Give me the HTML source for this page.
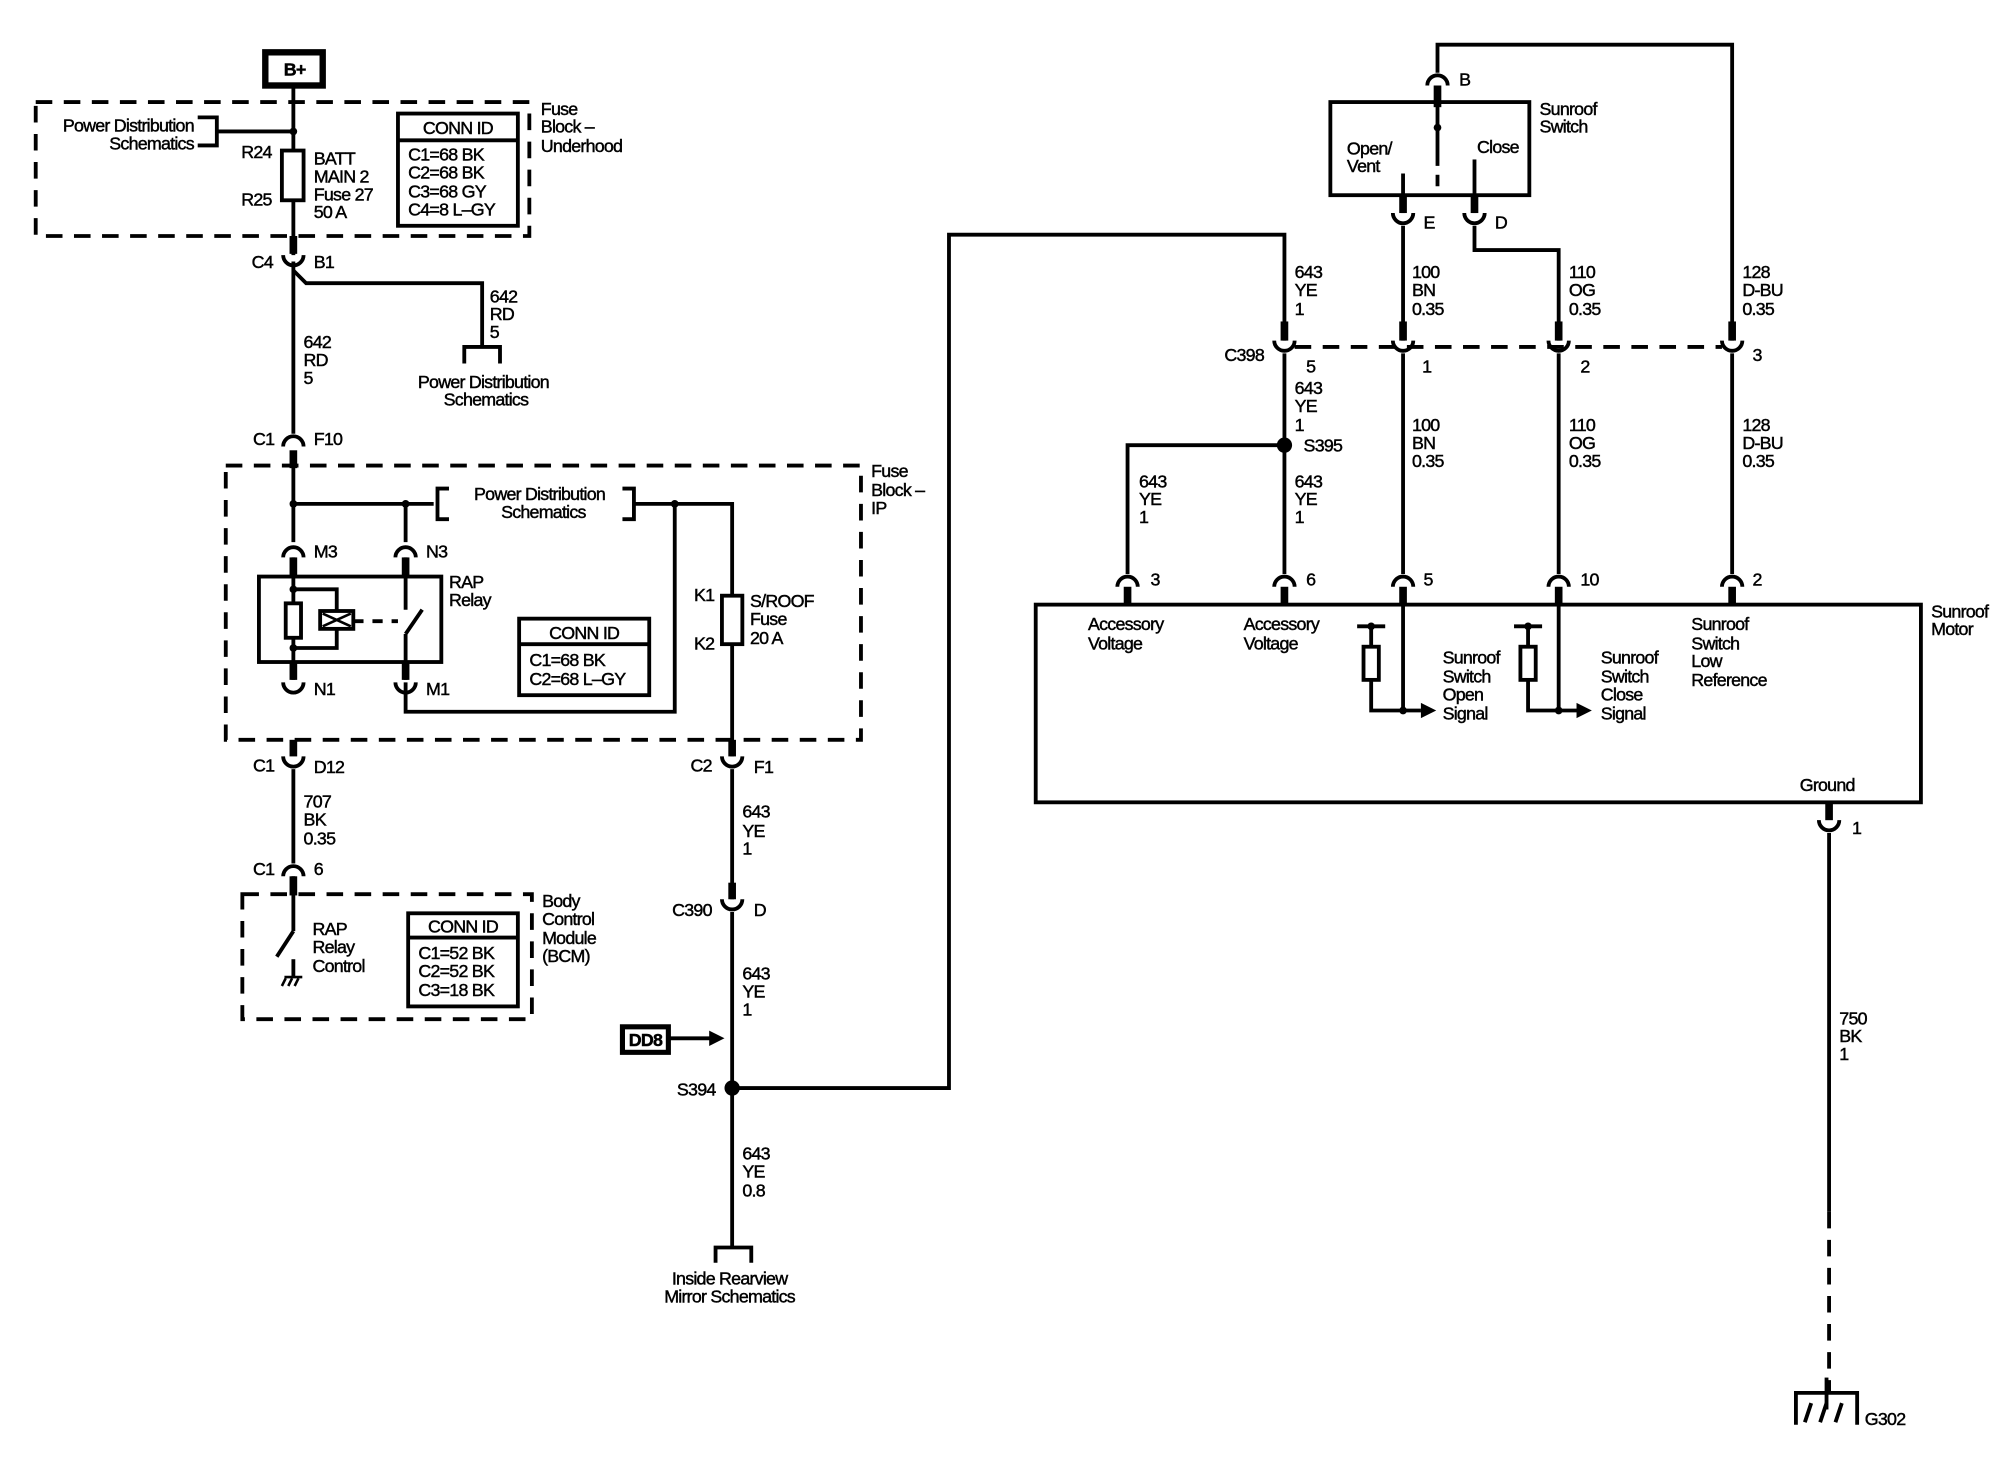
<!DOCTYPE html>
<html><head><meta charset="utf-8"><style>
html,body{margin:0;padding:0;background:#fff}
svg{display:block}
text{font-family:"Liberation Sans",sans-serif;font-size:14px;fill:#000;stroke:#000;stroke-width:0.35px;letter-spacing:-0.6px}
</style></head><body>
<svg width="2000" height="1472" viewBox="0 0 1568 1154" xmlns="http://www.w3.org/2000/svg">
<defs>
<path id="cu" d="M-8,-5 A8,8 0 0,0 8,-5" fill="none" stroke="#000" stroke-width="3"/>
<path id="cn" d="M-8,5 A8,8 0 0,1 8,5" fill="none" stroke="#000" stroke-width="3"/>
</defs>
<g fill="none" stroke="#000" stroke-width="3">
<rect x="208" y="41" width="45" height="26" stroke-width="5"/>
<g stroke-dasharray="13,9">
<rect x="28" y="80" width="387" height="105"/>
<rect x="177" y="365" width="498" height="215"/>
<rect x="190" y="701" width="227" height="98"/>
<line x1="1015" y1="272" x2="1350" y2="272"/>
<line x1="1434" y1="950" x2="1434" y2="1092"/>
</g>
<line x1="230" y1="67" x2="230" y2="118"/>
<line x1="230" y1="157" x2="230" y2="200"/>
<line x1="230" y1="185" x2="230" y2="199" stroke-width="6"/>
<polyline points="155,92 170,92 170,114 155,114"/>
<line x1="170" y1="103" x2="230" y2="103"/>
<rect x="221" y="118" width="17" height="39"/>
<rect x="312" y="89" width="94" height="88"/>
<line x1="312" y1="110" x2="406" y2="110"/>
<polyline points="230,205 230,340"/>
<polyline points="230,212 240,222 378,222 378,272"/>
<polyline points="364,285 364,272 392,272 392,285"/>
<line x1="230" y1="355" x2="230" y2="425"/>
<line x1="230" y1="353" x2="230" y2="367" stroke-width="6"/>
<polyline points="230,395 340,395"/>
<polyline points="352,383 343,383 343,407 352,407"/>
<polyline points="488,383 497,383 497,407 488,407"/>
<polyline points="497,395 574,395 574,467"/>
<line x1="318" y1="395" x2="318" y2="425"/>
<polyline points="529,395 529,558 318,558 318,535"/>
<rect x="566" y="467" width="16" height="38"/>
<line x1="574" y1="505" x2="574" y2="593"/>
<line x1="574" y1="580" x2="574" y2="593" stroke-width="6"/>
<rect x="203" y="452" width="143" height="67"/>
<line x1="230" y1="437" x2="230" y2="473"/>
<line x1="230" y1="500" x2="230" y2="533"/>
<line x1="230" y1="437" x2="230" y2="452" stroke-width="6"/>
<line x1="230" y1="519" x2="230" y2="533" stroke-width="6"/>
<rect x="224" y="473" width="12" height="27"/>
<polyline points="230,462 264,462 264,479"/>
<polyline points="230,508 264,508 264,493"/>
<rect x="251" y="479" width="26" height="14"/>
<line x1="253" y1="481" x2="275" y2="491" stroke-width="2"/>
<line x1="253" y1="491" x2="275" y2="481" stroke-width="2"/>
<line x1="277" y1="487" x2="312" y2="487" stroke-dasharray="8,7"/>
<line x1="318" y1="437" x2="318" y2="478"/>
<line x1="318" y1="437" x2="318" y2="452" stroke-width="6"/>
<line x1="318" y1="497" x2="331" y2="478"/>
<line x1="318" y1="497" x2="318" y2="533"/>
<line x1="318" y1="519" x2="318" y2="533" stroke-width="6"/>
<rect x="407" y="485" width="102" height="60"/>
<line x1="407" y1="505" x2="509" y2="505"/>
<line x1="230" y1="580" x2="230" y2="593" stroke-width="6"/>
<line x1="230" y1="603" x2="230" y2="677"/>
<line x1="230" y1="687" x2="230" y2="730"/>
<line x1="230" y1="687" x2="230" y2="702" stroke-width="6"/>
<line x1="230" y1="730" x2="217" y2="750"/>
<line x1="230" y1="752" x2="230" y2="766"/>
<line x1="223" y1="766" x2="237" y2="766" stroke-width="2"/>
<g stroke-width="2"><line x1="224" y1="767" x2="221" y2="773"/><line x1="229" y1="767" x2="226" y2="773"/><line x1="234" y1="767" x2="231" y2="773"/></g>
<rect x="320" y="716" width="86" height="73"/>
<line x1="320" y1="735" x2="406" y2="735"/>
<line x1="574" y1="603" x2="574" y2="705"/>
<line x1="574" y1="692" x2="574" y2="705" stroke-width="6"/>
<line x1="574" y1="715" x2="574" y2="978"/>
<rect x="488" y="805" width="36" height="20" stroke-width="4"/>
<line x1="524" y1="814" x2="558" y2="814"/>
<polyline points="574,853 744,853 744,184 1007,184 1007,267"/>
<line x1="1007" y1="252" x2="1007" y2="267" stroke-width="6"/>
<polyline points="561,990 561,978 589,978 589,990"/>
<rect x="1043" y="80" width="156" height="73"/>
<polyline points="1127,57 1127,35 1358,35 1358,267"/>
<line x1="1358" y1="252" x2="1358" y2="267" stroke-width="6"/>
<line x1="1127" y1="67" x2="1127" y2="130"/>
<line x1="1127" y1="67" x2="1127" y2="84" stroke-width="6"/>
<line x1="1127" y1="137" x2="1127" y2="146"/>
<line x1="1100" y1="136" x2="1100" y2="167"/>
<line x1="1100" y1="153" x2="1100" y2="167" stroke-width="6"/>
<line x1="1156" y1="125" x2="1156" y2="167"/>
<line x1="1156" y1="153" x2="1156" y2="167" stroke-width="6"/>
<line x1="1100" y1="177" x2="1100" y2="267"/>
<polyline points="1156,177 1156,196 1222,196 1222,267"/>
<line x1="1100" y1="252" x2="1100" y2="267" stroke-width="6"/>
<line x1="1222" y1="252" x2="1222" y2="267" stroke-width="6"/>
<line x1="1007" y1="277" x2="1007" y2="450"/>
<polyline points="1007,349 884,349 884,450"/>
<line x1="1100" y1="277" x2="1100" y2="450"/>
<line x1="1222" y1="277" x2="1222" y2="450"/>
<line x1="1358" y1="277" x2="1358" y2="450"/>
<rect x="812" y="474" width="694" height="155"/>
<g stroke-width="6">
<line x1="884" y1="460" x2="884" y2="474"/><line x1="1007" y1="460" x2="1007" y2="474"/>
<line x1="1100" y1="460" x2="1100" y2="474"/><line x1="1222" y1="460" x2="1222" y2="474"/>
<line x1="1358" y1="460" x2="1358" y2="474"/>
<line x1="1434" y1="629" x2="1434" y2="643"/>
</g>
<line x1="1100" y1="474" x2="1100" y2="557"/>
<line x1="1222" y1="474" x2="1222" y2="557"/>
<line x1="1064" y1="491" x2="1086" y2="491"/>
<polyline points="1075,491 1075,507"/>
<rect x="1069" y="507" width="12" height="26"/>
<polyline points="1075,533 1075,557 1114,557"/>
<line x1="1187" y1="491" x2="1209" y2="491"/>
<polyline points="1198,491 1198,507"/>
<rect x="1192" y="507" width="12" height="26"/>
<polyline points="1198,533 1198,557 1238,557"/>
<line x1="1434" y1="653" x2="1434" y2="950"/>
<polyline points="1408,1117 1408,1092 1456,1092 1456,1117"/>
<line x1="1432" y1="1080" x2="1432" y2="1105"/>
<g stroke-width="3"><line x1="1420" y1="1100" x2="1415" y2="1115"/><line x1="1432" y1="1100" x2="1427" y2="1115"/><line x1="1444" y1="1100" x2="1439" y2="1115"/></g>
</g>
<use href="#cu" x="230" y="205"/><use href="#cn" x="230" y="345"/>
<use href="#cn" x="230" y="432"/><use href="#cn" x="318" y="432"/>
<use href="#cu" x="230" y="540"/><use href="#cu" x="318" y="540"/>
<use href="#cu" x="230" y="598"/><use href="#cu" x="574" y="598"/>
<use href="#cn" x="230" y="682"/><use href="#cu" x="574" y="710"/>
<use href="#cn" x="1127" y="62"/><use href="#cu" x="1100" y="172"/><use href="#cu" x="1156" y="172"/>
<use href="#cu" x="1007" y="272"/><use href="#cu" x="1100" y="272"/><use href="#cu" x="1222" y="272"/><use href="#cu" x="1358" y="272"/>
<use href="#cn" x="884" y="455"/><use href="#cn" x="1007" y="455"/><use href="#cn" x="1100" y="455"/><use href="#cn" x="1222" y="455"/><use href="#cn" x="1358" y="455"/>
<use href="#cu" x="1434" y="648"/>
<g fill="#000">
<circle cx="230" cy="103" r="3"/><circle cx="230" cy="395" r="3"/><circle cx="318" cy="395" r="3"/><circle cx="529" cy="395" r="3"/>
<circle cx="230" cy="462" r="3"/><circle cx="230" cy="508" r="3"/>
<circle cx="574" cy="853" r="6"/><circle cx="1007" cy="349" r="6"/><circle cx="1127" cy="100" r="3"/>
<circle cx="1100" cy="557" r="3"/><circle cx="1222" cy="557" r="3"/><circle cx="1075" cy="491" r="3"/><circle cx="1198" cy="491" r="3"/>
<polygon points="556,808 568,814 556,820"/>
<polygon points="1114,551 1126,557 1114,563"/>
<polygon points="1236,551 1248,557 1236,563"/>
</g>
<text x="231" y="59" text-anchor="middle" font-weight="bold">B+</text>
<g text-anchor="end">
<text x="152" y="103">Power Distribution</text><text x="152" y="117">Schematics</text>
<text x="213" y="124">R24</text><text x="213" y="161">R25</text>
<text x="214" y="210">C4</text><text x="215" y="349">C1</text>
<text x="215" y="605">C1</text><text x="215" y="686">C1</text>
<text x="560" y="471">K1</text><text x="560" y="509">K2</text>
<text x="558" y="605">C2</text><text x="558" y="718">C390</text>
<text x="561" y="859">S394</text><text x="991" y="283">C398</text>
</g>
<text x="246" y="129">BATT</text><text x="246" y="143">MAIN 2</text><text x="246" y="157">Fuse 27</text><text x="246" y="171">50 A</text>
<text x="359" y="105" text-anchor="middle">CONN ID</text>
<text x="320" y="126">C1=68 BK</text><text x="320" y="140">C2=68 BK</text><text x="320" y="155">C3=68 GY</text><text x="320" y="169">C4=8 L–GY</text>
<text x="424" y="90">Fuse</text><text x="424" y="104">Block –</text><text x="424" y="119">Underhood</text>
<text x="246" y="210">B1</text>
<text x="384" y="237">642</text><text x="384" y="251">RD</text><text x="384" y="265">5</text>
<text x="238" y="273">642</text><text x="238" y="287">RD</text><text x="238" y="301">5</text>
<text x="379" y="304" text-anchor="middle">Power Distribution</text><text x="381" y="318" text-anchor="middle">Schematics</text>
<text x="246" y="349">F10</text>
<text x="683" y="374">Fuse</text><text x="683" y="389">Block –</text><text x="683" y="403">IP</text>
<text x="423" y="392" text-anchor="middle">Power Distribution</text><text x="426" y="406" text-anchor="middle">Schematics</text>
<text x="246" y="437">M3</text><text x="334" y="437">N3</text>
<text x="352" y="461">RAP</text><text x="352" y="475">Relay</text>
<text x="588" y="476">S/ROOF</text><text x="588" y="490">Fuse</text><text x="588" y="505">20 A</text>
<text x="458" y="501" text-anchor="middle">CONN ID</text>
<text x="415" y="522">C1=68 BK</text><text x="415" y="537">C2=68 L–GY</text>
<text x="246" y="545">N1</text><text x="334" y="545">M1</text>
<text x="246" y="606">D12</text><text x="591" y="606">F1</text>
<text x="238" y="633">707</text><text x="238" y="647">BK</text><text x="238" y="662">0.35</text>
<text x="582" y="641">643</text><text x="582" y="656">YE</text><text x="582" y="670">1</text>
<text x="246" y="686">6</text><text x="591" y="718">D</text>
<text x="425" y="711">Body</text><text x="425" y="725">Control</text><text x="425" y="740">Module</text><text x="425" y="754">(BCM)</text>
<text x="245" y="733">RAP</text><text x="245" y="747">Relay</text><text x="245" y="762">Control</text>
<text x="363" y="731" text-anchor="middle">CONN ID</text>
<text x="328" y="752">C1=52 BK</text><text x="328" y="766">C2=52 BK</text><text x="328" y="781">C3=18 BK</text>
<text x="582" y="768">643</text><text x="582" y="782">YE</text><text x="582" y="796">1</text>
<text x="506" y="820" text-anchor="middle" font-weight="bold">DD8</text>
<text x="582" y="909">643</text><text x="582" y="923">YE</text><text x="582" y="938">0.8</text>
<text x="572" y="1007" text-anchor="middle">Inside Rearview</text><text x="572" y="1021" text-anchor="middle">Mirror Schematics</text>
<text x="1144" y="67">B</text>
<text x="1207" y="90">Sunroof</text><text x="1207" y="104">Switch</text>
<text x="1056" y="121">Open/</text><text x="1056" y="135">Vent</text><text x="1158" y="120">Close</text>
<text x="1116" y="179">E</text><text x="1172" y="179">D</text>
<text x="1015" y="218">643</text><text x="1015" y="232">YE</text><text x="1015" y="247">1</text>
<text x="1107" y="218">100</text><text x="1107" y="232">BN</text><text x="1107" y="247">0.35</text>
<text x="1230" y="218">110</text><text x="1230" y="232">OG</text><text x="1230" y="247">0.35</text>
<text x="1366" y="218">128</text><text x="1366" y="232">D-BU</text><text x="1366" y="247">0.35</text>
<text x="1024" y="292">5</text><text x="1115" y="292">1</text><text x="1239" y="292">2</text><text x="1374" y="283">3</text>
<text x="1015" y="309">643</text><text x="1015" y="323">YE</text><text x="1015" y="338">1</text>
<text x="1022" y="354">S395</text>
<text x="1107" y="338">100</text><text x="1107" y="352">BN</text><text x="1107" y="366">0.35</text>
<text x="1230" y="338">110</text><text x="1230" y="352">OG</text><text x="1230" y="366">0.35</text>
<text x="1366" y="338">128</text><text x="1366" y="352">D-BU</text><text x="1366" y="366">0.35</text>
<text x="893" y="382">643</text><text x="893" y="396">YE</text><text x="893" y="410">1</text>
<text x="1015" y="382">643</text><text x="1015" y="396">YE</text><text x="1015" y="410">1</text>
<text x="902" y="459">3</text><text x="1024" y="459">6</text><text x="1116" y="459">5</text><text x="1239" y="459">10</text><text x="1374" y="459">2</text>
<text x="1514" y="484">Sunroof</text><text x="1514" y="498">Motor</text>
<text x="853" y="494">Accessory</text><text x="853" y="509">Voltage</text>
<text x="975" y="494">Accessory</text><text x="975" y="509">Voltage</text>
<text x="1131" y="520">Sunroof</text><text x="1131" y="535">Switch</text><text x="1131" y="549">Open</text><text x="1131" y="564">Signal</text>
<text x="1255" y="520">Sunroof</text><text x="1255" y="535">Switch</text><text x="1255" y="549">Close</text><text x="1255" y="564">Signal</text>
<text x="1326" y="494">Sunroof</text><text x="1326" y="509">Switch</text><text x="1326" y="523">Low</text><text x="1326" y="538">Reference</text>
<text x="1411" y="620">Ground</text>
<text x="1452" y="654">1</text>
<text x="1442" y="803">750</text><text x="1442" y="817">BK</text><text x="1442" y="831">1</text>
<text x="1462" y="1117">G302</text>
</svg>
</body></html>
